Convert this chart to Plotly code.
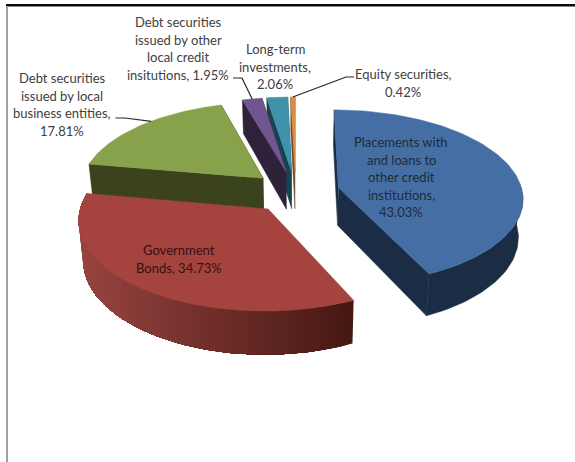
import math
import plotly.graph_objects as go

# Portfolio shares, clockwise from twelve o'clock
categories = [
    "Placements with and loans to other credit institutions",
    "Government Bonds",
    "Debt securities issued by local business entities",
    "Debt securities issued by other local credit insitutions",
    "Long-term investments",
    "Equity securities",
]
shares = [43.03, 34.73, 17.81, 1.95, 2.06, 0.42]

top_colours = ["#456fa4", "#a5443f", "#87a24a", "#71558f", "#3e93ab", "#df8a3c"]
wall_colours = ["#1a2d45", None, "#3a431d", "#2d2239", "#174450", "#6b4a2a"]
RED_WALL_LIGHT = (152, 68, 64)
RED_WALL_DARK = (70, 24, 18)

# Projection of the tilted, exploded pie onto the page (page pixels)
CX, CY = 295.5, 192.0
SCALE_X, SCALE_Y = 184.0, 87.0
PERSPECTIVE = 0.109
DEPTH = 38.0
BOTTOM_SHRINK = 0.98
EXPLODE = 0.24
SWEEP_STEP = 1.5


def project(u, v, lower=False):
    f = 1.0 / (1.0 + PERSPECTIVE * v)
    x = SCALE_X * u * f
    y = -SCALE_Y * v * f
    if lower:
        return CX + x * BOTTOM_SHRINK, CY + y + DEPTH * f
    return CX + x, CY + y


def rim(start, end, mid, lower=False, radius=1.0):
    steps = max(2, int(abs(end - start) / SWEEP_STEP) + 1)
    points = []
    for i in range(steps + 1):
        t = math.radians(start + (end - start) * i / steps)
        m = math.radians(mid)
        u = EXPLODE * math.sin(m) + radius * math.sin(t)
        v = EXPLODE * math.cos(m) + radius * math.cos(t)
        points.append(project(u, v, lower))
    return points


def hub(mid, lower=False):
    m = math.radians(mid)
    return project(EXPLODE * math.sin(m), EXPLODE * math.cos(m), lower)


fig = go.Figure()


def polygon(points, colour, seam=0.0):
    fig.add_trace(go.Scatter(
        x=[p[0] for p in points], y=[p[1] for p in points],
        mode="lines", fill="toself", fillcolor=colour,
        line=dict(color=colour, width=seam), hoverinfo="skip", showlegend=False,
    ))


def mix(a, b, t):
    t = min(1.0, max(0.0, t))
    return "rgb(%d,%d,%d)" % tuple(round(a[i] + (b[i] - a[i]) * t) for i in range(3))


# Slice angles from the shares
angles = []
running = 0.0
for share in shares:
    begin = running
    running += share * 3.6
    angles.append((begin, running, (begin + running) / 2))

# Painted from the back of the pie to the front
for idx in [5, 4, 3, 2, 0, 1]:
    begin, end, mid = angles[idx]
    hub_top, hub_low = hub(mid), hub(mid, True)
    wall = wall_colours[idx]

    if wall:
        first_top, first_low = rim(begin, begin, mid)[0], rim(begin, begin, mid, True)[0]
        last_top, last_low = rim(end, end, mid)[0], rim(end, end, mid, True)[0]
        polygon([hub_top, first_top, first_low, hub_low], wall, 0.5)
        polygon([hub_top, last_top, last_low, hub_low], wall, 0.5)

    # Outer wall, only where it faces the viewer
    w0, w1 = max(begin, 90.0), min(end, 270.0 if idx != 1 else end)
    if w1 > w0:
        top_arc = rim(w0, w1, mid)
        low_arc = rim(w0, w1, mid, True)
        if wall:
            polygon(top_arc + low_arc[::-1], wall, 0.5)
        else:
            # Nested sweeps, each one repainting what remains, so no seams show
            x_right, x_left = top_arc[0][0], min(p[0] for p in top_arc)
            for i in range(len(top_arc) - 1):
                sweep = top_arc[i:] + low_arc[i:][::-1]
                t = (x_right - top_arc[i][0]) / (x_right - x_left)
                polygon(sweep, mix(RED_WALL_DARK, RED_WALL_LIGHT, t))

    polygon([hub_top] + rim(begin, end, mid) + [hub_top], top_colours[idx], 0.5)

# Leader lines run from the label to the slice's rim
leaders = {
    2: ([(115.5, 118), (125, 118)], 5.0),
    3: ([(233, 78), (242, 78)], 0.0),
    5: ([(354, 77), (346, 77)], 0.0),
}
for idx, (elbow, nudge) in leaders.items():
    at = angles[idx][2] + nudge
    anchor = rim(at, at, angles[idx][2])[0]
    path = elbow + [anchor]
    fig.add_trace(go.Scatter(
        x=[p[0] for p in path], y=[p[1] for p in path], mode="lines",
        line=dict(color="#262626", width=1.2), hoverinfo="skip", showlegend=False,
    ))

# Data labels, one annotation per line to hold the line pitch
LINE_PITCH = 17.6
label_layout = [
    (401, 142, "#1f2a38", ["Placements with", "and loans to", "other credit", "institutions,", "%.2f%%" % shares[0]]),
    (179, 250, "#33110f", ["Government", "Bonds, %.2f%%" % shares[1]]),
    (62, 78, "#404040", ["Debt securities", "issued by local", "business entities,", "%.2f%%" % shares[2]]),
    (178, 22, "#404040", ["Debt securities", "issued by other", "local credit", "insitutions, %.2f%%" % shares[3]]),
    (275, 49, "#404040", ["Long-term", "investments,", "%.2f%%" % shares[4]]),
    (403, 74, "#404040", ["Equity securities,", "%.2f%%" % shares[5]]),
]
annotations = []
for x, y, colour, lines in label_layout:
    for n, line in enumerate(lines):
        annotations.append(dict(
            x=x, y=y + n * LINE_PITCH, text=line, showarrow=False,
            xanchor="center", yanchor="middle",
            font=dict(family="Lato", size=13, color=colour),
        ))

# Chart frame: heavy rule along the top, thin grey rule down the left
frame = [
    dict(type="line", xref="x", yref="y", x0=6, x1=575, y0=5.2, y1=5.2,
         line=dict(color="#0a0a0a", width=2.4), layer="above"),
    dict(type="line", xref="x", yref="y", x0=7, x1=7, y0=6, y1=462,
         line=dict(color="#a0a0a0", width=2), layer="above"),
]

fig.update_layout(
    width=575, height=462, margin=dict(l=0, r=0, t=0, b=0),
    paper_bgcolor="white", plot_bgcolor="white", showlegend=False,
    xaxis=dict(range=[0, 575], visible=False, fixedrange=True),
    yaxis=dict(range=[462, 0], visible=False, fixedrange=True),
    annotations=annotations, shapes=frame,
)

fig.write_html("out.html", config={"displayModeBar": False})
